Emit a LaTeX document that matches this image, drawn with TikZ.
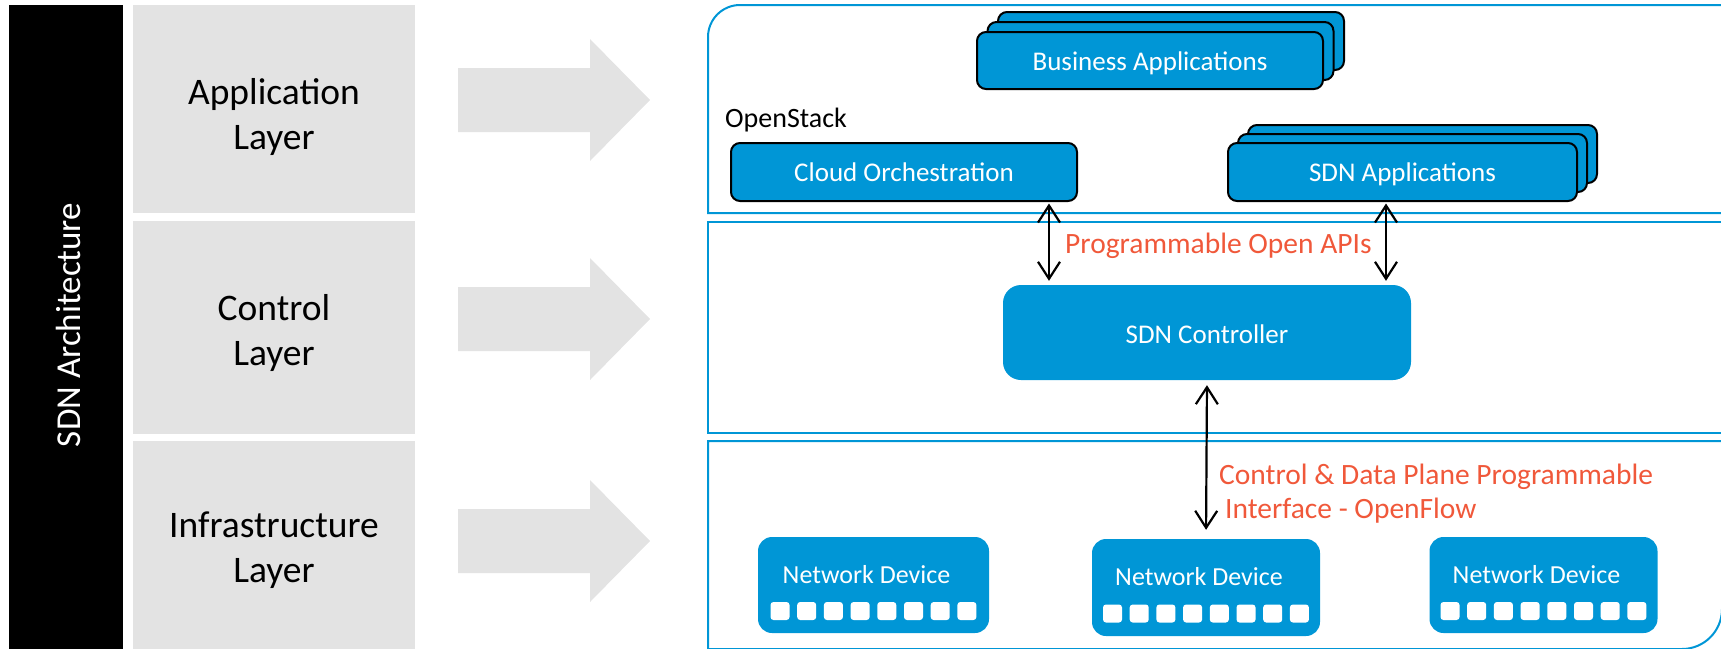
\documentclass[tikz,border=0pt]{standalone}
\usepackage{fontspec}
\setmainfont{Carlito}
\usetikzlibrary{arrows.meta,calc}

\definecolor{hpblue}{RGB}{0,150,214}
\definecolor{layergray}{RGB}{227,227,227}
\definecolor{apiorange}{RGB}{240,88,58}

\tikzset{
  layerbox/.style={fill=layergray, inner sep=0pt},
  layertext/.style={font=\fontsize{37.5}{45}\selectfont, align=center, inner sep=0pt},
  blockarrow/.style={fill=layergray},
  panel/.style={draw=hpblue, line width=2pt},
  appbox/.style={draw=black, line width=2pt, fill=hpblue, rounded corners=9pt,
    text=white, font=\fontsize{27}{32}\selectfont, inner sep=0pt,
    text height=24pt, text depth=5pt},
  flatbox/.style={fill=hpblue, text=white, inner sep=0pt},
  devtext/.style={text=white, font=\fontsize{26}{30}\selectfont, inner sep=0pt},
  port/.style={fill=white, rounded corners=3pt, minimum width=19pt,
    minimum height=18pt, inner sep=0pt},
  link/.style={{Straight Barb[length=17pt,width=22pt]}-{Straight Barb[length=17pt,width=22pt]},
    line width=2.2pt},
  apitext/.style={text=apiorange, font=\fontsize{29.5}{34}\selectfont, inner sep=0pt},
}

\begin{document}
\begin{tikzpicture}[x=1pt, y=-1pt]
  \path[use as bounding box] (0,0) rectangle (1721,648);
  \clip (0,0) rectangle (1721,648);

  % left column: title bar and layer names
  \node[fill=black, minimum width=114pt, minimum height=645pt, inner sep=0pt] (bar) at (66,327.5) {};
  \node[rotate=90, text=white, font=\fontsize{35}{40}\selectfont, inner sep=0pt] (archtxt) at (68,325) {SDN Architecture};

  \node[layerbox, minimum width=282pt, minimum height=208pt] (lapp) at (274,109) {};
  \node[layerbox, minimum width=282pt, minimum height=213pt] (lctl) at (274,327.5) {};
  \node[layerbox, minimum width=282pt, minimum height=209pt] (linf) at (274,545.5) {};
  \node[layertext] (tapp) at (274,116.5) {Application\\Layer};
  \node[layertext] (tctl) at (274,333) {Control\\Layer};
  \node[layertext] (tinf) at (274,550) {Infrastructure\\Layer};

  % block arrows pointing to the layers
  \foreach \cy in {100,319,541} {
    \fill[blockarrow] (458,\cy-32) -- (590,\cy-32) -- (590,\cy-61) -- (650,\cy)
      -- (590,\cy+61) -- (590,\cy+32) -- (458,\cy+32) -- cycle;
  }

  % layer panels
  \draw[panel] (1724,213) -- (708,213) -- (708,37) arc[start angle=180, end angle=270, radius=32] -- (1724,5);
  \draw[panel] (1724,222) -- (708,222) -- (708,433) -- (1724,433);
  \draw[panel] (1724,441) -- (708,441) -- (708,649) -- (1682,649)
    arc[start angle=90, end angle=0, radius=40] -- (1722,441);

  % application layer
  \node[appbox, minimum width=346pt, minimum height=58pt] (ba3) at (1171,41) {};
  \node[appbox, minimum width=346pt, minimum height=58pt] (ba2) at (1160.5,51) {};
  \node[appbox, minimum width=346pt, minimum height=57pt] (ba) at (1150,60.5) {Business Applications};

  \node[anchor=base west, font=\fontsize{28}{32}\selectfont, inner sep=0pt] (os) at (725,127) {OpenStack};
  \node[appbox, minimum width=346pt, minimum height=58pt] (co) at (904,172) {Cloud Orchestration};

  \node[appbox, minimum width=349pt, minimum height=58pt] (sa3) at (1422.5,154) {};
  \node[appbox, minimum width=349pt, minimum height=58pt] (sa2) at (1412.5,163) {};
  \node[appbox, minimum width=349pt, minimum height=58pt] (sa) at (1402.5,172) {SDN Applications};

  % control layer
  \node[flatbox, rounded corners=18pt, minimum width=408pt, minimum height=95pt,
    font=\fontsize{27}{32}\selectfont, text height=26pt, text depth=4pt] (ctrl) at (1207,332.5) {SDN Controller};

  \coordinate (ax1) at (1049,0);
  \coordinate (ax2) at (1386,0);
  \draw[link, shorten <=1.5pt, shorten >=4pt] (co.south -| ax1) -- (ctrl.north -| ax1);
  \draw[link, shorten <=1.5pt, shorten >=4pt] (sa.south -| ax2) -- (ctrl.north -| ax2);
  \node[apitext, anchor=base west] (api) at (1065,253) {Programmable Open APIs};

  % infrastructure layer
  \node[flatbox, rounded corners=14pt, minimum width=231pt, minimum height=96pt] (dev1) at (873.5,585) {};
  \node[flatbox, rounded corners=14pt, minimum width=228pt, minimum height=97pt] (dev2) at (1206,587.5) {};
  \node[flatbox, rounded corners=14pt, minimum width=228pt, minimum height=96pt] (dev3) at (1543.5,585) {};
  \foreach \d in {dev1,dev2,dev3} {
    \node[devtext, anchor=base] (\d-label) at ($(\d.center)+(-7,-2)$) {Network Device};
    \foreach \i in {0,...,7} {
      \node[port] (\d-p\i) at ($(\d.center)+(-93.5+26.7*\i,26)$) {};
    }
  }

  \draw[link, shorten <=5pt, shorten >=9pt] (ctrl.south) -- (dev2.north);
  \node[apitext, anchor=base west] (of1) at (1219,484) {Control \& Data Plane Programmable};
  \node[apitext, anchor=base west] (of2) at (1225,518) {Interface - OpenFlow};
\end{tikzpicture}
\end{document}
